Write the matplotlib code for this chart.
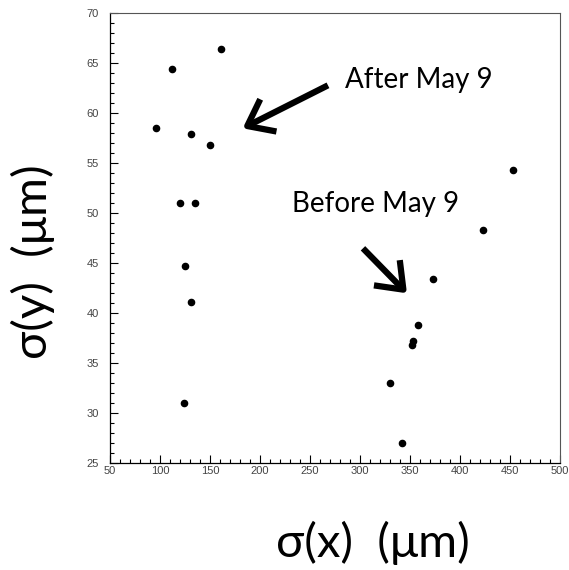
import matplotlib
matplotlib.use("Agg")
import matplotlib.pyplot as plt
from matplotlib.ticker import MultipleLocator

# sigma_x, sigma_y of the beam spot (um)
after_x = [96, 112, 161, 131, 150, 120, 135, 125, 131, 124]
after_y = [58.5, 64.4, 66.4, 57.9, 56.8, 51.0, 51.0, 44.7, 41.1, 31.0]
before_x = [453, 423, 373, 358, 353, 352, 330, 342]
before_y = [54.3, 48.3, 43.4, 38.8, 37.2, 36.8, 33.0, 27.0]

x_lim = (50, 500)
y_lim = (25, 70)

txt_font = ['Lato', 'DejaVu Sans']

fig = plt.figure(figsize=(5.69, 5.70), dpi=100)
ax = fig.add_axes([0.1933, 0.1872, 0.7908, 0.7894])

ax.scatter(after_x, after_y, s=20, color='black', zorder=3)
ax.scatter(before_x, before_y, s=20, color='black', zorder=3)

ax.set_xlim(*x_lim)
ax.set_ylim(*y_lim)
ax.xaxis.set_major_locator(MultipleLocator(50))
ax.xaxis.set_minor_locator(MultipleLocator(10))
ax.yaxis.set_major_locator(MultipleLocator(5))
ax.yaxis.set_minor_locator(MultipleLocator(1))

ax.tick_params(which='both', direction='in', top=False, right=False,
               width=0.8, color='black')
ax.tick_params(which='major', length=5.5)
ax.tick_params(which='minor', length=3)
ax.tick_params(axis='x', pad=2, labelsize=8, labelcolor='#444444')
ax.tick_params(axis='y', pad=8, labelsize=8, labelcolor='#444444')
for lab in ax.get_xticklabels() + ax.get_yticklabels():
    lab.set_family('Liberation Sans')

for side in ['left', 'bottom']:
    ax.spines[side].set_linewidth(0.9)
    ax.spines[side].set_color('black')
for side in ['top', 'right']:
    ax.spines[side].set_linewidth(0.8)
    ax.spines[side].set_color('#555555')

# annotations
arrow = dict(arrowstyle='->, head_length=0.85, head_width=0.65',
             lw=4.5, color='black', shrinkA=0, shrinkB=0,
             mutation_scale=20, capstyle='butt')
ax.annotate('', xy=(182.7, 58.5), xytext=(268, 62.8), arrowprops=arrow)
ax.annotate('', xy=(347, 42.0), xytext=(303, 46.5), arrowprops=arrow)
ax.text(285, 62.5, 'After May 9', fontsize=20, family=txt_font,
        ha='left', va='baseline')
ax.text(232, 50.1, 'Before May 9', fontsize=20, family=txt_font,
        ha='left', va='baseline')

fig.text(0.058, 0.541, 'σ(y)  (μm)', rotation=90, fontsize=34,
         family=txt_font, ha='center', va='center')
fig.text(0.656, 0.047, 'σ(x)  (μm)', fontsize=34,
         family=txt_font, ha='center', va='center')

fig.savefig('out.png', dpi=100)
